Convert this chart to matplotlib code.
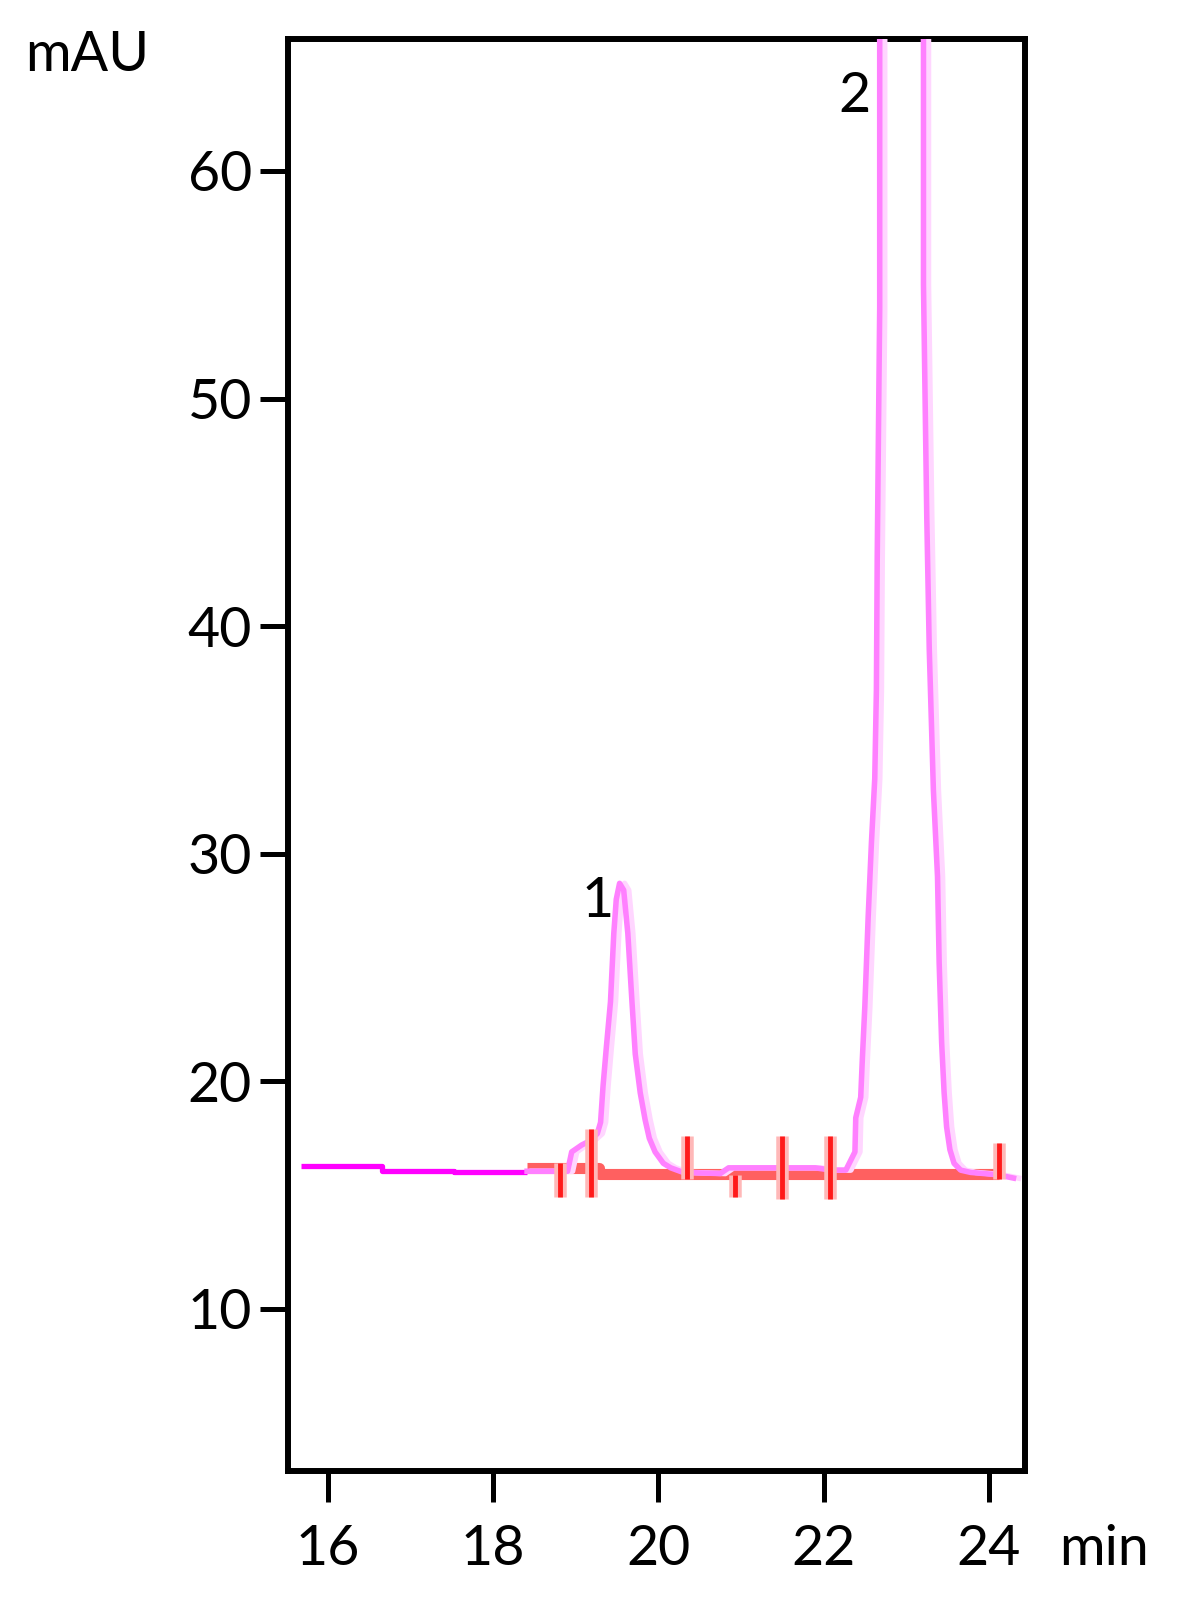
import matplotlib
matplotlib.use("Agg")
import matplotlib.pyplot as plt
from matplotlib.transforms import offset_copy

plt.rcParams["font.family"] = ["Lato", "DejaVu Sans"]

# flat detector baseline before the integrated region (pure magenta, stepped)
base_t = [15.67, 16.65, 17.52, 18.41]
base_v = [16.28, 16.08, 16.03, 16.03]

# chromatogram trace (pink)
trace_t = [18.41, 18.90, 18.95, 19.07, 19.15, 19.26, 19.30, 19.33, 19.37, 19.42,
           19.46, 19.49, 19.53, 19.58, 19.63, 19.68, 19.72, 19.78, 19.84, 19.89,
           19.96, 20.06, 20.15, 20.30, 20.75, 20.85, 21.90, 22.10, 22.27, 22.38,
           22.39, 22.45, 22.47, 22.50, 22.54, 22.58, 22.62, 22.64, 22.65, 22.665,
           22.68, 22.68, 22.95, 23.21, 23.21, 23.25, 23.28, 23.33, 23.38, 23.40,
           23.43, 23.46, 23.49, 23.53, 23.58, 23.66, 23.78, 24.10, 24.30]
trace_v = [16.05, 16.05, 16.9, 17.2, 17.35, 17.7, 18.2, 19.8, 21.5, 23.5,
           26.5, 28.0, 28.7, 28.4, 26.5, 23.5, 21.2, 19.5, 18.3, 17.5,
           16.9, 16.4, 16.2, 16.0, 15.95, 16.2, 16.2, 16.1, 16.1, 16.9,
           18.4, 19.3, 21.0, 23.3, 27.2, 30.5, 33.3, 37.2, 43.0, 48.6,
           54.0, 66.0, 140.0, 66.0, 55.0, 44.8, 39.0, 32.8, 29.0, 25.2,
           21.7, 19.5, 18.0, 17.0, 16.4, 16.1, 16.0, 15.9, 15.75]

# integration baseline (red)
red_t = [18.41, 19.28, 19.28, 24.12]
red_v = [16.2, 16.2, 15.94, 15.94]

# integration event marks
mark_t = [18.81, 19.19, 20.35, 20.93, 21.50, 22.08, 24.12]
mark_lo = [14.9, 14.9, 15.7, 14.9, 14.85, 14.85, 15.7]
mark_hi = [16.4, 17.9, 17.6, 15.9, 17.6, 17.6, 17.3]

peak_labels = ["1", "2"]
peak_label_t = [19.26, 22.376]
peak_label_v = [27.22, 62.59]

fig = plt.figure(figsize=(11.77, 15.97), dpi=100)
ax = fig.add_axes([0.2447, 0.0789, 0.6262, 0.8967])

ax.plot(base_t, base_v, color="#ff00ff", lw=3.8, drawstyle="steps-post",
        solid_capstyle="butt", zorder=3)
ax.plot(red_t, red_v, color="#ff6060", lw=8, solid_capstyle="butt", zorder=2)

pale = offset_copy(ax.transData, fig=fig, x=5, y=0, units="dots")
ax.plot(trace_t, trace_v, color="#ffd6ff", lw=4, transform=pale, zorder=3)
ax.plot(trace_t, trace_v, color="#ff80ff", lw=4, zorder=4)

ax.vlines(mark_t, mark_lo, mark_hi, color="#ffb8b8", lw=9, zorder=5)
ax.vlines(mark_t, mark_lo, mark_hi, color="#ff1a1a", lw=3.5, zorder=6)

for lab, t, v in zip(peak_labels, peak_label_t, peak_label_v):
    ax.text(t, v, lab, fontsize=40, ha="center", va="baseline", color="black")

ax.set_xlim(15.515, 24.44)
ax.set_ylim(2.88, 65.8)
ax.set_xticks([16, 18, 20, 22, 24])
ax.set_yticks([10, 20, 30, 40, 50, 60])
ax.tick_params(axis="both", labelsize=40, width=3.6, direction="out")
ax.tick_params(axis="y", length=20, pad=6)
ax.tick_params(axis="x", length=22, pad=16)
for s in ax.spines.values():
    s.set_linewidth(4.3)

fig.text(25 / 1177, 1 - 71 / 1597, "mAU", fontsize=40, ha="left", va="baseline")
fig.text(1059 / 1177, 1 - 1565 / 1597, "min", fontsize=40, ha="left", va="baseline")

fig.savefig("out.png", dpi=100)
